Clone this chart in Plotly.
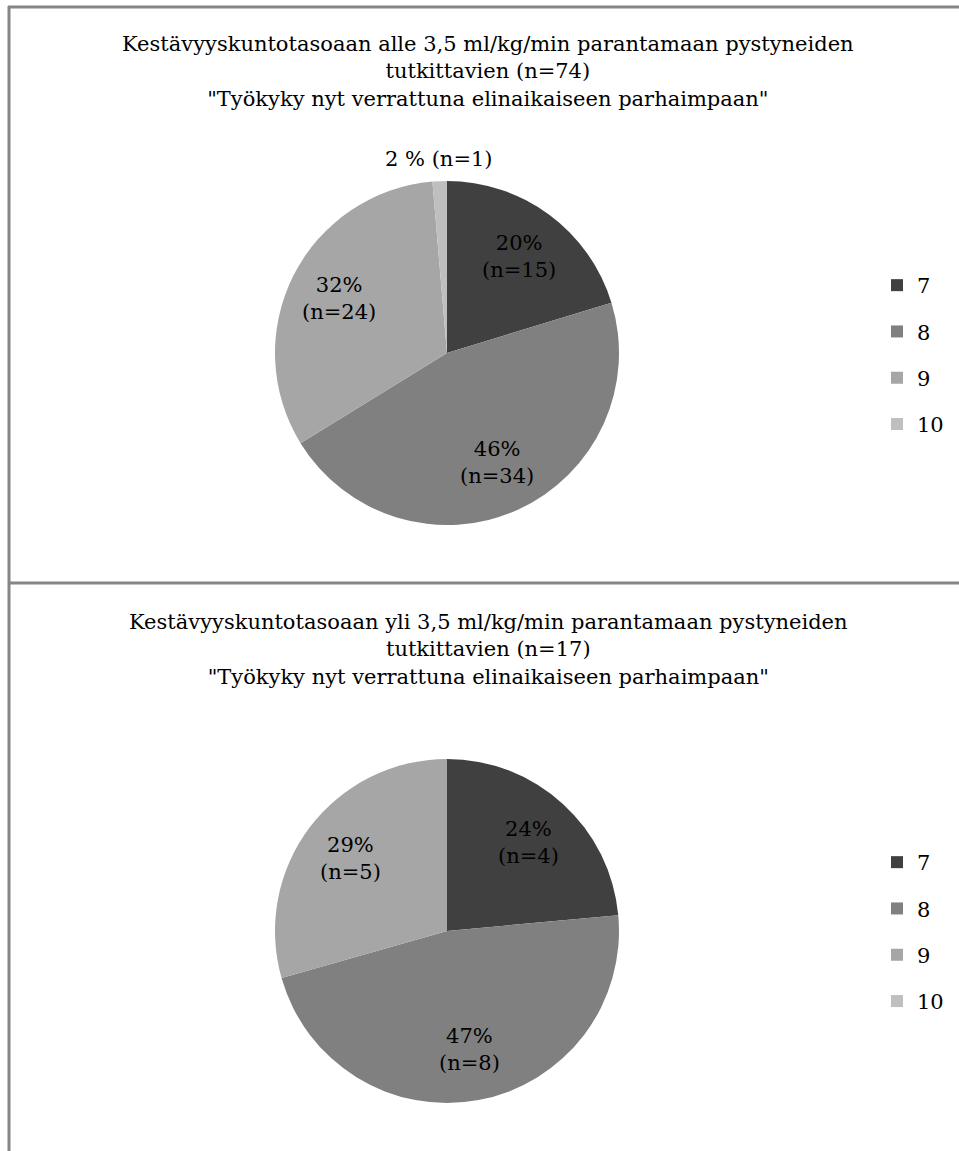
import math
import plotly.graph_objects as go

# Työkykyluokat ja niiden harmaasävyt
categories = ["7", "8", "9", "10"]
colors = ["#404040", "#808080", "#a6a6a6", "#bfbfbf"]

# Ryhmä 1: parannus alle 3,5 ml/kg/min (n=74)
n_top = [15, 34, 24, 1]
pct_top = [20, 46, 32, 2]
title_top = ("Kestävyyskuntotasoaan alle 3,5 ml/kg/min parantamaan pystyneiden<br>"
             "tutkittavien (n=74)<br>"
             "\"Työkyky nyt verrattuna elinaikaiseen parhaimpaan\"")

# Ryhmä 2: parannus yli 3,5 ml/kg/min (n=17)
n_bottom = [4, 8, 5, 0]
pct_bottom = [24, 47, 29, 0]
title_bottom = ("Kestävyyskuntotasoaan yli 3,5 ml/kg/min parantamaan pystyneiden<br>"
                "tutkittavien (n=17)<br>"
                "\"Työkyky nyt verrattuna elinaikaiseen parhaimpaan\"")

W, H = 959, 1151
FONT = "'DejaVu Serif', 'Liberation Serif', serif"
FS = 21

R = 172
CX = 447
xdom = [(CX - R) / W, (CX + R) / W]


def ydom(center_from_top):
    c = H - center_from_top
    return [(c - R) / H, (c + R) / H]


def slice_labels(ns, pcts, cy):
    """Data labels placed along each slice's mid-angle (clockwise from 12 o'clock)."""
    total = sum(ns)
    anns = []
    cum = 0
    for n, p in zip(ns, pcts):
        if n == 0:
            continue
        mid = (cum + n / 2) / total * 2 * math.pi
        cum += n
        if p < 5:
            dist, text = R + 8, f"{p} % (n={n})"
            yanchor = "bottom"
        else:
            dist, text = R * 0.7, f"{p}%<br>(n={n})"
            yanchor = "middle"
        px = CX + dist * math.sin(mid)
        py = cy - dist * math.cos(mid)
        anns.append(dict(text=text, x=px / W, y=1 - py / H, xref="paper", yref="paper",
                         xanchor="center", yanchor=yanchor, showarrow=False,
                         align="center", font=dict(family=FONT, size=FS, color="black")))
    return anns


fig = go.Figure()
annotations = []

for ns, pcts, cy in [(n_top, pct_top, 353), (n_bottom, pct_bottom, 931)]:
    fig.add_trace(go.Pie(
        labels=categories, values=ns, textinfo="none",
        sort=False, direction="clockwise", rotation=0,
        marker=dict(colors=colors, line=dict(width=0)),
        domain=dict(x=xdom, y=ydom(cy)),
        showlegend=False, hoverinfo="label+value",
    ))
    annotations += slice_labels(ns, pcts, cy)

# Legend entries (one per category) for each panel
for lg in ["legend", "legend2"]:
    for cat, col in zip(categories, colors):
        fig.add_trace(go.Scatter(
            x=[None], y=[None], mode="markers", name=cat,
            marker=dict(symbol="square", size=14, color=col),
            legend=lg, legendgroup=lg + cat, showlegend=True,
        ))

legend_common = dict(
    font=dict(family=FONT, size=FS, color="black"),
    bgcolor="rgba(0,0,0,0)", tracegroupgap=16,
    xanchor="left", yanchor="top", itemsizing="constant",
)

for text, ytop in [(title_top, 30), (title_bottom, 608)]:
    annotations.append(dict(
        text=text, x=488 / W, y=1 - ytop / H, xref="paper", yref="paper",
        xanchor="center", yanchor="top", showarrow=False, align="center",
        font=dict(family=FONT, size=FS, color="black")))

fig.update_layout(
    width=W, height=H, margin=dict(l=0, r=0, t=0, b=0),
    paper_bgcolor="white", plot_bgcolor="white",
    xaxis=dict(visible=False), yaxis=dict(visible=False),
    legend=dict(x=877 / W, y=1 - 265 / H, **legend_common),
    legend2=dict(x=877 / W, y=1 - 842 / H, **legend_common),
    annotations=annotations,
    shapes=[
        dict(type="line", xref="paper", yref="paper", x0=8 / W, x1=1,
             y0=1 - 7 / H, y1=1 - 7 / H, line=dict(color="#868686", width=3)),
        dict(type="line", xref="paper", yref="paper", x0=8 / W, x1=1,
             y0=1 - 583 / H, y1=1 - 583 / H, line=dict(color="#868686", width=3)),
        dict(type="line", xref="paper", yref="paper", x0=9 / W, x1=9 / W,
             y0=0, y1=1 - 6 / H, line=dict(color="#868686", width=3)),
    ],
)

fig.write_html("out.html")
